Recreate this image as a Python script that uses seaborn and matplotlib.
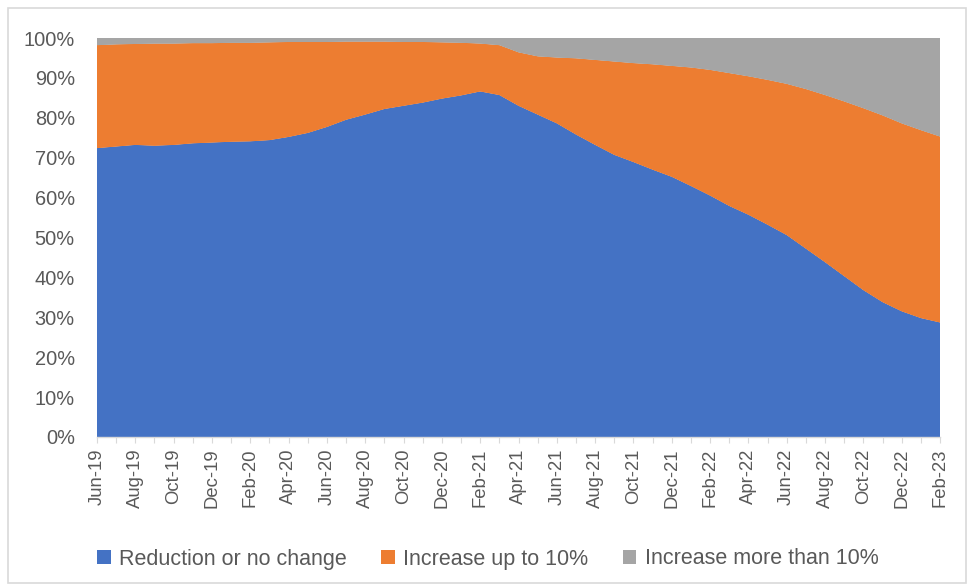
import numpy as np
import pandas as pd
import matplotlib
matplotlib.use("Agg")
import matplotlib.pyplot as plt
from matplotlib.patches import Patch, Rectangle
import seaborn as sns
import seaborn.objects as so

# ---- data (share of respondents, %) ----
months = ["Jun-19", "Jul-19", "Aug-19", "Sep-19", "Oct-19", "Nov-19", "Dec-19",
          "Jan-20", "Feb-20", "Mar-20", "Apr-20", "May-20", "Jun-20", "Jul-20",
          "Aug-20", "Sep-20", "Oct-20", "Nov-20", "Dec-20", "Jan-21", "Feb-21",
          "Mar-21", "Apr-21", "May-21", "Jun-21", "Jul-21", "Aug-21", "Sep-21",
          "Oct-21", "Nov-21", "Dec-21", "Jan-22", "Feb-22", "Mar-22", "Apr-22",
          "May-22", "Jun-22", "Jul-22", "Aug-22", "Sep-22", "Oct-22", "Nov-22",
          "Dec-22", "Jan-23", "Feb-23"]

reduction = [72.4, 72.8, 73.2, 73.0, 73.2, 73.6, 73.8, 74.0, 74.1, 74.4,
             75.2, 76.2, 77.7, 79.5, 80.8, 82.2, 83.0, 83.8, 84.8, 85.6,
             86.6, 85.7, 83.0, 80.8, 78.6, 75.8, 73.2, 70.7, 68.9, 67.0,
             65.2, 62.9, 60.5, 57.9, 55.7, 53.2, 50.6, 47.2, 43.8, 40.3,
             36.8, 33.8, 31.5, 29.8, 28.7]

increase_up_to_10 = [25.8, 25.6, 25.3, 25.6, 25.4, 25.1, 24.9, 24.8, 24.7, 24.5,
                     23.8, 22.8, 21.3, 19.6, 18.3, 16.9, 16.0, 15.2, 14.1, 13.2,
                     12.0, 12.5, 13.4, 14.6, 16.5, 19.1, 21.3, 23.4, 24.8, 26.4,
                     27.8, 29.7, 31.5, 33.3, 34.7, 36.3, 37.9, 40.0, 41.9, 43.8,
                     45.6, 46.8, 47.1, 47.1, 46.6]

increase_more_10 = [1.8, 1.6, 1.5, 1.4, 1.4, 1.3, 1.3, 1.2, 1.2, 1.1,
                    1.0, 1.0, 1.0, 0.9, 0.9, 0.9, 1.0, 1.0, 1.1, 1.2,
                    1.4, 1.8, 3.6, 4.6, 4.9, 5.1, 5.5, 5.9, 6.3, 6.6,
                    7.0, 7.4, 8.0, 8.8, 9.6, 10.5, 11.5, 12.8, 14.3, 15.9,
                    17.6, 19.4, 21.4, 23.1, 24.7]

series_names = ["Reduction or no change", "Increase up to 10%", "Increase more than 10%"]
series_colors = ["#4472C4", "#ED7D31", "#A5A5A5"]

# ---- long table ----
pos = np.arange(len(months))
df = pd.concat([
    pd.DataFrame({"pos": pos, "value": vals, "series": name})
    for name, vals in zip(series_names, [reduction, increase_up_to_10, increase_more_10])
], ignore_index=True)

sns.set_theme(style="white")
plt.rcParams["font.family"] = ["Liberation Sans", "DejaVu Sans"]
TXT = "#595959"
AX = "#D9D9D9"

W, H = 968, 584
fig = plt.figure(figsize=(W / 100, H / 100), dpi=100)
x0, x1, y0, y1 = 97, 940, 38, 437
ax = fig.add_axes([x0 / W, 1 - y1 / H, (x1 - x0) / W, (y1 - y0) / H])

(
    so.Plot(df, x="pos", y="value", color="series")
    .add(so.Area(alpha=1, edgewidth=0.6), so.Stack(), legend=False)
    .scale(color=dict(zip(series_names, series_colors)))
    .on(ax)
    .plot()
)

ax.set_facecolor("white")
ax.grid(False)
ax.set_xlim(0, len(months) - 1)
ax.set_ylim(0, 100)
ax.set_xlabel("")
ax.set_ylabel("")

ax.set_xticks(pos)
ax.set_xticklabels([m if i % 2 == 0 else "" for i, m in enumerate(months)],
                   rotation=90, ha="center", va="top", fontsize=13.3, color=TXT)
ax.set_yticks(np.arange(0, 101, 10))
ax.set_yticklabels([f"{v}%" for v in range(0, 101, 10)], fontsize=14.4, color=TXT,
                   va="center_baseline")
ax.tick_params(axis="x", length=4.5, width=0.8, color=AX, pad=4, direction="out", bottom=True)
ax.tick_params(axis="y", length=0, pad=16)

for s in ["top", "right", "left"]:
    ax.spines[s].set_visible(False)
ax.spines["bottom"].set_color(AX)
ax.spines["bottom"].set_linewidth(1.0)
ax.spines["bottom"].set_zorder(5)

handles = [Patch(facecolor=c, edgecolor="none") for c in series_colors]
fig.legend(handles, series_names, loc="center", bbox_to_anchor=(488 / W, 1 - 559 / H),
           ncol=3, frameon=False, fontsize=15.5, labelcolor=TXT,
           handlelength=0.62, handleheight=0.62, handletextpad=0.4, columnspacing=1.6,
           borderaxespad=0)

fig.add_artist(Rectangle((8 / W, 1 / H), (966 - 8) / W, (575) / H,
                         transform=fig.transFigure, fill=False, edgecolor=AX, linewidth=1.2))

fig.savefig("out.png", dpi=100, facecolor="white")
